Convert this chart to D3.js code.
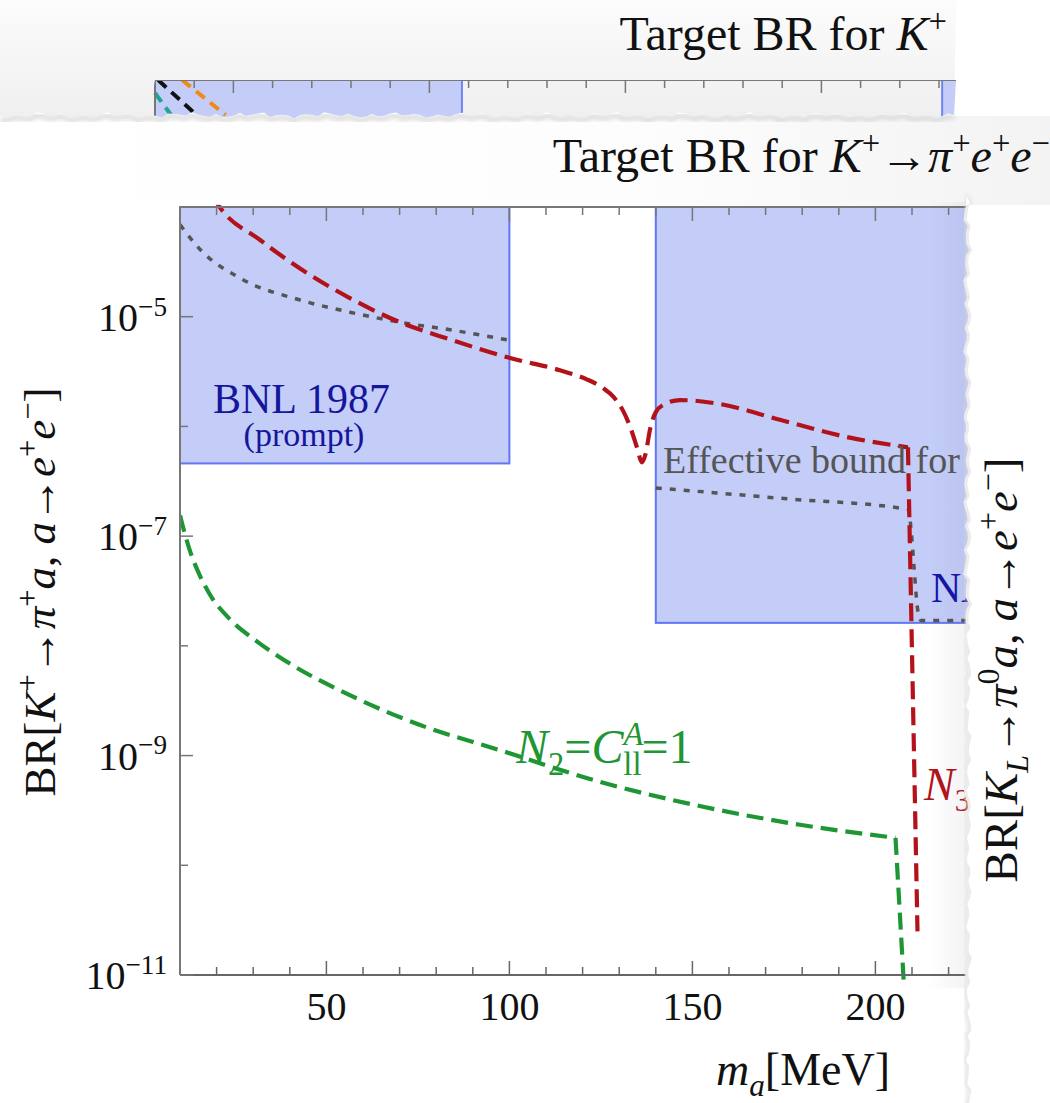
<!DOCTYPE html>
<html>
<head>
<meta charset="utf-8">
<script src="https://cdn.jsdelivr.net/npm/d3@7"></script>
<style>
    body { margin: 0; background: #fff; }
    svg { display: block; }
    text { font-family: "Liberation Serif", "Times New Roman", serif; }
</style>
</head>
<body>
<svg width="1050" height="1103"></svg>
<script>

// ---- data ----
var xMajor = [50, 100, 150, 200];
var xMinor = [20, 30, 40, 60, 70, 80, 90, 110, 120, 130, 140, 160, 170, 180, 190, 210, 220, 230, 240];
var yMajor = [1e-11, 1e-9, 1e-7, 1e-5];
var yExp = ["\u221211", "\u22129", "\u22127", "\u22125"];
var yMinor = [1e-10, 1e-8, 1e-6];

// excluded regions [m0, m1, BR0, BR1]
var bnlBox = [10, 100, 4.6e-7, 1e-4];
var naBox = [140, 260, 1.62e-8, 1e-4];

// N3 curve (red dashed): smooth part, then the drop at the muon threshold
var redN3 = [[19, 1.25e-4], [20.4, 1.05e-4], [31.9, 5.0e-5], [42.8, 2.75e-5], [56.4, 1.48e-5], [70.1, 8.9e-6],
    [83.8, 6.2e-6], [100.2, 4.2e-6], [113.8, 3.25e-6], [121, 2.7e-6], [125.5, 2.25e-6], [128.5, 1.85e-6],
    [131, 1.4e-6], [133.2, 9.5e-7], [135, 6.2e-7], [136.2, 4.7e-7], [137.2, 5.6e-7], [138.4, 9.3e-7],
    [140, 1.35e-6], [142.5, 1.6e-6], [146.6, 1.74e-6], [157.5, 1.6e-6], [173.9, 1.15e-6], [193, 7.9e-7],
    [208.9, 6.45e-7]];
var redDrop = [[208.9, 6.45e-7], [211.5, 2.5e-11]];

// effective bound (gray dotted), two pieces
var grayEff1 = [[10, 6.9e-5], [15.5, 4.1e-5], [26.4, 2.25e-5], [42.8, 1.42e-5], [56.4, 1.1e-5],
    [70.1, 8.9e-6], [83.8, 7.6e-6], [100, 6.1e-6]];
var grayEff2 = [[140, 2.75e-7], [175, 2.2e-7], [209, 1.75e-7], [209.8, 1.1e-7], [210.6, 5e-8],
    [211.5, 2.2e-8], [212.5, 1.7e-8], [225, 1.7e-8], [260, 1.7e-8]];

// N2 = C_ll^A = 1 (green dashed)
var greenN2 = [[10, 1.55e-7], [11.5, 1.0e-7], [13, 6.9e-8], [15, 4.7e-8], [18, 3.0e-8], [23.7, 1.74e-8],
    [31, 1.1e-8], [40, 6.9e-9], [56.4, 3.55e-9], [75.6, 1.9e-9], [97.4, 1.12e-9], [124.8, 5.75e-10],
    [152, 3.47e-10], [179.4, 2.34e-10], [205.5, 1.78e-10]];
var greenDrop = [[205.5, 1.78e-10], [207.8, 8e-12]];

// strip of the chart above (only a sliver shows)
var stripMajor = [50, 100, 150, 200];
var stripMinor = [40, 60, 70, 80, 90, 110, 120, 130, 140, 160, 170, 180, 190, 210, 220, 230];
var stripBoxes = [[30, 108.3], [230.8, 240]];
var stripTeal = [[30, 0.63], [34.1, 0]];
var stripBlack = [[30.8, 1], [40.6, 0]];
var stripOrange = [[36.9, 1], [48, 0]];

// ---- setup ----
var svg = d3.select("svg"),
    width = +svg.attr("width"),
    height = +svg.attr("height");

var x = d3.scaleLinear().domain([10, 250]).range([180, 180 + 240 * 3.66]);
var y = d3.scaleLog().domain([1e-11, 1e-4]).range([975, 207]);

var xs = d3.scaleLinear().domain([30, 235]).range([155, 155 + 205 * 3.92]);
var ys = d3.scaleLinear().domain([0, 1]).range([115, 80]);

var tearX = 966;

// little wobble for torn paper edges
function wob(i) { return 1.6 * Math.sin(i * 1.7) + 1.1 * Math.sin(i * 0.53 + 1) + 0.7 * Math.sin(i * 3.1); }

// rich text: parts = [text, kind, dx]
function rich(sel, parts, size) {
    var cur = 0;
    parts.forEach(function(p) {
        var kind = p[1], off = 0, fs = size;
        if (kind.indexOf("sup") == 0) { off = -0.38 * size; fs = 0.68 * size; }
        if (kind.indexOf("sub") == 0) { off = 0.24 * size; fs = 0.68 * size; }
        var ts = sel.append("tspan").attr("dy", off - cur).attr("font-size", fs).text(p[0]);
        if (p[2]) ts.attr("dx", p[2]);
        if (kind == "i" || kind == "supi" || kind == "subi") ts.attr("font-style", "italic");
        cur = off;
    });
}

var defs = svg.append("defs");

var g1 = defs.append("linearGradient").attr("id", "stripBg").attr("x1", 0).attr("y1", 0).attr("x2", 0).attr("y2", 1);
g1.append("stop").attr("offset", 0).attr("stop-color", "#fcfcfc");
g1.append("stop").attr("offset", 1).attr("stop-color", "#efefef");

var g2 = defs.append("linearGradient").attr("id", "tearShade").attr("x1", 0).attr("y1", 0).attr("x2", 1).attr("y2", 0);
g2.append("stop").attr("offset", 0).attr("stop-color", "#606080").attr("stop-opacity", 0);
g2.append("stop").attr("offset", 1).attr("stop-color", "#606080").attr("stop-opacity", 0.08);

var g3 = defs.append("linearGradient").attr("id", "titleBg").attr("x1", 0).attr("y1", 0).attr("x2", 1).attr("y2", 0);
g3.append("stop").attr("offset", 0).attr("stop-color", "#ffffff");
g3.append("stop").attr("offset", 0.6).attr("stop-color", "#fdfdfd");
g3.append("stop").attr("offset", 1).attr("stop-color", "#f3f3f3");

defs.append("filter").attr("id", "soft").append("feGaussianBlur").attr("stdDeviation", 2.5);

// torn edge outlines
var stripEdge = d3.range(0, 957, 6).map(function(px, i) { return [px, 115 + wob(i)]; });
var tearEdge = d3.range(196, 1110, 6).map(function(py, i) { return [tearX + wob(i + 40), py]; });

// ---- backgrounds ----
svg.append("rect").attr("x", 0).attr("y", 116).attr("width", width).attr("height", 90).attr("fill", "url(#titleBg)");

svg.append("path")
    .attr("d", d3.line()(stripEdge.map(function(d) { return [d[0], d[1] + 3]; })))
    .attr("fill", "none").attr("stroke", "#d2d2d2").attr("stroke-width", 4).attr("filter", "url(#soft)");

svg.append("path")
    .attr("d", d3.line()([[0, 0], [956, 0]].concat(stripEdge.slice().reverse()).concat([[0, 0]])) + "Z")
    .attr("fill", "url(#stripBg)");

// ---- top sliver of the other chart ----
defs.append("clipPath").attr("id", "stripClip")
  .append("path")
    .attr("d", d3.line()([[155, 80], [956, 80]].concat(stripEdge.filter(function(d) { return d[0] >= 150; }).reverse()).concat([[155, 80]])) + "Z");

var strip = svg.append("g").attr("clip-path", "url(#stripClip)");

strip.selectAll("rect.sb")
  .data(stripBoxes)
  .enter().append("rect")
    .attr("class", "sb")
    .attr("x", function(d) { return xs(d[0]); })
    .attr("y", ys(1))
    .attr("width", function(d) { return xs(d[1]) - xs(d[0]); })
    .attr("height", 50)
    .attr("fill", "#c3cdf8")
    .attr("stroke", "#7083f2")
    .attr("stroke-width", 2);

var sline = d3.line().x(function(d) { return xs(d[0]); }).y(function(d) { return ys(d[1]); });
[[stripTeal, "#22a396"], [stripBlack, "#111111"], [stripOrange, "#ef8a17"]].forEach(function(s) {
    strip.append("path").attr("d", sline(s[0])).attr("fill", "none")
        .attr("stroke", s[1]).attr("stroke-width", 4).attr("stroke-dasharray", "11,7");
});

strip.append("line").attr("x1", 155).attr("x2", 956).attr("y1", 80).attr("y2", 80).attr("stroke", "#777").attr("stroke-width", 2);
strip.append("line").attr("x1", 155).attr("x2", 155).attr("y1", 80).attr("y2", 120).attr("stroke", "#777").attr("stroke-width", 2);
strip.selectAll("line.st")
  .data(stripMinor.map(function(d) { return [d, 8]; }).concat(stripMajor.map(function(d) { return [d, 13]; })))
  .enter().append("line")
    .attr("class", "st")
    .attr("x1", function(d) { return xs(d[0]); }).attr("x2", function(d) { return xs(d[0]); })
    .attr("y1", 80).attr("y2", function(d) { return 80 + d[1]; })
    .attr("stroke", "#777").attr("stroke-width", 1.5);

// titles
var t1 = svg.append("text").attr("x", 947).attr("y", 50).attr("text-anchor", "end").attr("font-size", 48).attr("fill", "#111");
rich(t1, [["Target BR for ", "r"], ["K", "i"], ["+", "sup"]], 48);

var t2 = svg.append("text").attr("x", 1050).attr("y", 172).attr("text-anchor", "end").attr("font-size", 48).attr("fill", "#111");
rich(t2, [["Target BR for ", "r"], ["K", "i"], ["+", "sup"], ["\u2192", "r"], ["\u03c0", "i"], ["+", "sup"],
    ["e", "i"], ["+", "sup"], ["e", "i"], ["\u2212", "sup"]], 48);

// ---- main plot ----
defs.append("clipPath").attr("id", "plotClip")
  .append("path")
    .attr("d", d3.line()([[179, 205]].concat(tearEdge.filter(function(d) { return d[1] >= 200 && d[1] <= 990; })).concat([[179, 978]])) + "Z");

var plot = svg.append("g").attr("clip-path", "url(#plotClip)");

plot.selectAll("rect.box")
  .data([bnlBox, naBox])
  .enter().append("rect")
    .attr("class", "box")
    .attr("x", function(d) { return x(d[0]); })
    .attr("y", function(d) { return y(d[3]); })
    .attr("width", function(d) { return x(d[1]) - x(d[0]); })
    .attr("height", function(d) { return y(d[2]) - y(d[3]); })
    .attr("fill", "#c3cdf8")
    .attr("stroke", "#6176f3")
    .attr("stroke-width", 2);

var line = d3.line()
    .x(function(d) { return x(d[0]); })
    .y(function(d) { return y(d[1]); })
    .curve(d3.curveMonotoneX);
var straight = d3.line()
    .x(function(d) { return x(d[0]); })
    .y(function(d) { return y(d[1]); });

function draw(gen, data, color, w, dash) {
    plot.append("path").attr("d", gen(data)).attr("fill", "none")
        .attr("stroke", color).attr("stroke-width", w).attr("stroke-dasharray", dash);
}

draw(line, grayEff1, "#555", 3.5, "6,8");
draw(line, grayEff2, "#555", 3.5, "6,8");
draw(line, redN3, "#b3121a", 4.2, "18,8");
draw(straight, redDrop, "#b3121a", 4.2, "18,8");
draw(line, greenN2, "#1e9634", 4.2, "17,8");
draw(straight, greenDrop, "#1e9634", 4.2, "17,8");

// labels inside the plot
plot.append("text").attr("x", 213).attr("y", 413).attr("font-size", 42).attr("fill", "#16169c").text("BNL 1987");
plot.append("text").attr("x", 304).attr("y", 446).attr("text-anchor", "middle").attr("font-size", 34).attr("fill", "#16169c").text("(prompt)");
plot.append("text").attr("x", 663).attr("y", 473).attr("font-size", 38).attr("fill", "#555").text("Effective bound for K");
plot.append("text").attr("x", 931).attr("y", 602).attr("font-size", 42).attr("fill", "#1212aa").text("NA48/2");

var n2 = plot.append("text").attr("x", 516).attr("y", 763).attr("font-size", 48).attr("fill", "#1e9634");
rich(n2, [["N", "i"], ["2", "sub"], ["=", "r"], ["C", "i"], ["A", "supi"], ["ll", "sub", -20], ["=1", "r"]], 48);

var n3 = plot.append("text").attr("x", 924).attr("y", 800).attr("font-size", 46).attr("fill", "#b3121a");
rich(n3, [["N", "i"], ["3", "sub"]], 46);

// frame
plot.append("line").attr("x1", 180).attr("x2", 1060).attr("y1", 207).attr("y2", 207).attr("stroke", "#777").attr("stroke-width", 2);
plot.append("line").attr("x1", 180).attr("x2", 1060).attr("y1", 975).attr("y2", 975).attr("stroke", "#666").attr("stroke-width", 2);
svg.append("line").attr("x1", 180).attr("x2", 180).attr("y1", 207).attr("y2", 975).attr("stroke", "#777").attr("stroke-width", 2);

var xt = xMinor.map(function(d) { return [d, 8]; }).concat(xMajor.map(function(d) { return [d, 14]; }));
plot.selectAll("line.xb")
  .data(xt)
  .enter().append("line")
    .attr("class", "xb")
    .attr("x1", function(d) { return x(d[0]); }).attr("x2", function(d) { return x(d[0]); })
    .attr("y1", 975).attr("y2", function(d) { return 975 - d[1]; })
    .attr("stroke", "#666").attr("stroke-width", 1.5);
plot.selectAll("line.xt")
  .data(xt)
  .enter().append("line")
    .attr("class", "xt")
    .attr("x1", function(d) { return x(d[0]); }).attr("x2", function(d) { return x(d[0]); })
    .attr("y1", 207).attr("y2", function(d) { return 207 + d[1]; })
    .attr("stroke", "#777").attr("stroke-width", 1.5);

svg.selectAll("line.yt")
  .data(yMinor.map(function(d) { return [d, 8]; }).concat(yMajor.map(function(d) { return [d, 13]; })))
  .enter().append("line")
    .attr("class", "yt")
    .attr("x1", 180).attr("x2", function(d) { return 180 + d[1]; })
    .attr("y1", function(d) { return y(d[0]); }).attr("y2", function(d) { return y(d[0]); })
    .attr("stroke", "#777").attr("stroke-width", 1.5);

// shading toward the torn edge
svg.append("rect").attr("x", 928).attr("y", 116).attr("width", tearX - 928 + 4).attr("height", height - 116)
    .attr("fill", "url(#tearShade)").attr("clip-path", "url(#plotClip)");

// right of the tear
svg.append("path")
    .attr("d", d3.line()(tearEdge.map(function(d) { return [d[0] + 2, d[1]]; })))
    .attr("fill", "none").attr("stroke", "#dcdcdc").attr("stroke-width", 4).attr("filter", "url(#soft)");
svg.append("path")
    .attr("d", d3.line()(tearEdge.map(function(d) { return [d[0] + 3, d[1]]; }).concat([[width, 1110], [width, 205], [tearX, 205]])) + "Z")
    .attr("fill", "#fff");

// tick labels
svg.selectAll("text.xl")
  .data(xMajor)
  .enter().append("text")
    .attr("class", "xl")
    .attr("x", function(d) { return x(d); })
    .attr("y", 1020)
    .attr("text-anchor", "middle")
    .attr("font-size", 40)
    .attr("fill", "#111")
    .text(function(d) { return d; });

yMajor.forEach(function(v, i) {
    var t = svg.append("text").attr("x", 167).attr("y", y(v) + 14).attr("text-anchor", "end").attr("font-size", 40).attr("fill", "#111");
    rich(t, [["10", "r"], [yExp[i], "sup"]], 40);
});

// axis labels
var xlab = svg.append("text").attr("x", 890).attr("y", 1085).attr("text-anchor", "end").attr("font-size", 46).attr("fill", "#111");
rich(xlab, [["m", "i"], ["a", "subi"], ["[MeV]", "r"]], 46);

var ylab = svg.append("text").attr("transform", "translate(55,592) rotate(-90)").attr("text-anchor", "middle").attr("font-size", 45).attr("fill", "#111");
rich(ylab, [["BR[", "r"], ["K", "i"], ["+", "sup"], ["\u2192", "r"], ["\u03c0", "i"], ["+", "sup"], ["a", "i"], [", ", "r"],
    ["a", "i"], ["\u2192", "r"], ["e", "i"], ["+", "sup"], ["e", "i"], ["\u2212", "sup"], ["]", "r"]], 45);

var rlab = svg.append("text").attr("transform", "translate(1017,670) rotate(-90)").attr("text-anchor", "middle").attr("font-size", 47).attr("fill", "#111");
rich(rlab, [["BR[", "r"], ["K", "i"], ["L", "subi"], ["\u2192", "r"], ["\u03c0", "i"], ["0", "sup"], ["a", "i"], [", ", "r"],
    ["a", "i"], ["\u2192", "r"], ["e", "i"], ["+", "sup"], ["e", "i"], ["\u2212", "sup"], ["]", "r"]], 47);

</script>
</body>
</html>
